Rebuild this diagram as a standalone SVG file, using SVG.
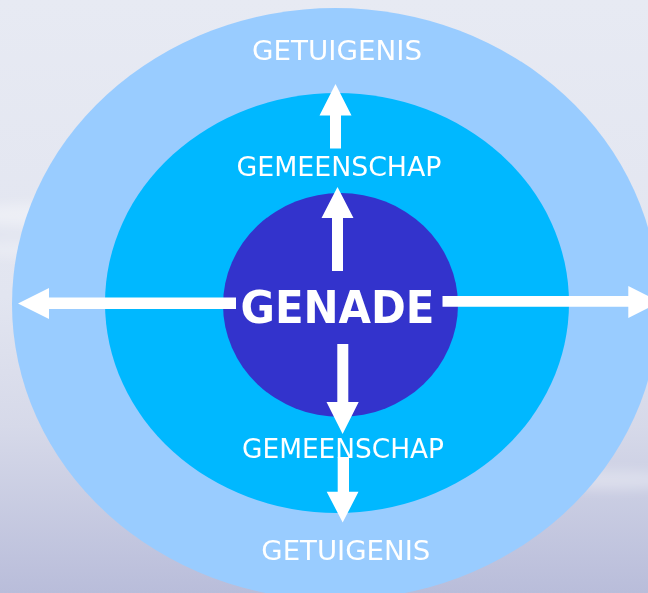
<svg xmlns="http://www.w3.org/2000/svg" width="648" height="593" viewBox="0 0 648 593">
  <defs>
    <linearGradient id="bg" x1="0" y1="0" x2="0" y2="1">
      <stop offset="0" stop-color="#e7eaf3"/>
      <stop offset="0.5" stop-color="#e2e5f0"/>
      <stop offset="0.72" stop-color="#d6d9e9"/>
      <stop offset="1" stop-color="#b9bdda"/>
    </linearGradient>
    <filter id="blur" x="-20%" y="-200%" width="140%" height="500%">
      <feGaussianBlur stdDeviation="6"/>
    </filter>
    <style>
      .lbl { font-family: "DejaVu Sans", "Verdana", sans-serif; font-size: 26px; fill: #ffffff; text-anchor: middle; }
      .core { font-family: "DejaVu Sans", "Verdana", sans-serif; font-size: 44px; font-weight: bold; fill: #ffffff; text-anchor: middle; }
      .arrow { fill: #ffffff; stroke: none; }
    </style>
  </defs>
  <rect x="0" y="0" width="648" height="593" fill="url(#bg)"/>
  <g filter="url(#blur)" fill="#ffffff">
    <ellipse cx="40" cy="215" rx="70" ry="12" opacity="0.35"/>
    <ellipse cx="30" cy="250" rx="60" ry="8" opacity="0.25"/>
    <ellipse cx="610" cy="480" rx="70" ry="10" opacity="0.3"/>
  </g>

  <g id="node-getuigenis">
    <ellipse cx="335.5" cy="304" rx="323.5" ry="296" fill="#99ccff"/>
    <text class="lbl" x="337" y="59.5" textLength="170" lengthAdjust="spacingAndGlyphs">GETUIGENIS</text>
    <text class="lbl" x="345.8" y="560" textLength="169" lengthAdjust="spacingAndGlyphs">GETUIGENIS</text>
  </g>

  <g id="node-gemeenschap">
    <ellipse cx="337" cy="303" rx="232" ry="210" fill="#00b8ff"/>
  </g>

  <g id="node-genade">
    <ellipse cx="340.5" cy="305" rx="117.5" ry="112" fill="#3333cc"/>
  </g>

  <g id="connectors">
    <polygon class="arrow" points="330,148.5 330,115.5 319.5,115.5 335.5,84 351.5,115.5 341,115.5 341,148.5"/>
    <polygon class="arrow" points="332,271 332,218 321.5,218 337.5,187 353.5,218 343,218 343,271"/>
    <polygon class="arrow" points="236,297.5 49,297.5 49,288 18,303.5 49,319 49,309 236,309"/>
    <polygon class="arrow" points="442.5,296 628.3,296 628.3,286 660,302 628.3,318 628.3,306.7 442.5,306.7"/>
    <polygon class="arrow" points="337.3,344 337.3,402 326.5,402 342.6,434 358.7,402 348.3,402 348.3,344"/>
    <polygon class="arrow" points="337.7,457 337.7,491.7 326.7,491.7 342.7,522.5 358.5,491.7 349,491.7 349,457"/>
  </g>

  <g id="labels">
    <text class="lbl" x="339" y="176" textLength="205" lengthAdjust="spacingAndGlyphs">GEMEENSCHAP</text>
    <text class="lbl" x="343" y="457.5" textLength="202" lengthAdjust="spacingAndGlyphs">GEMEENSCHAP</text>
    <text class="core" x="337.5" y="323.3" textLength="194" lengthAdjust="spacingAndGlyphs">GENADE</text>
  </g>
</svg>
